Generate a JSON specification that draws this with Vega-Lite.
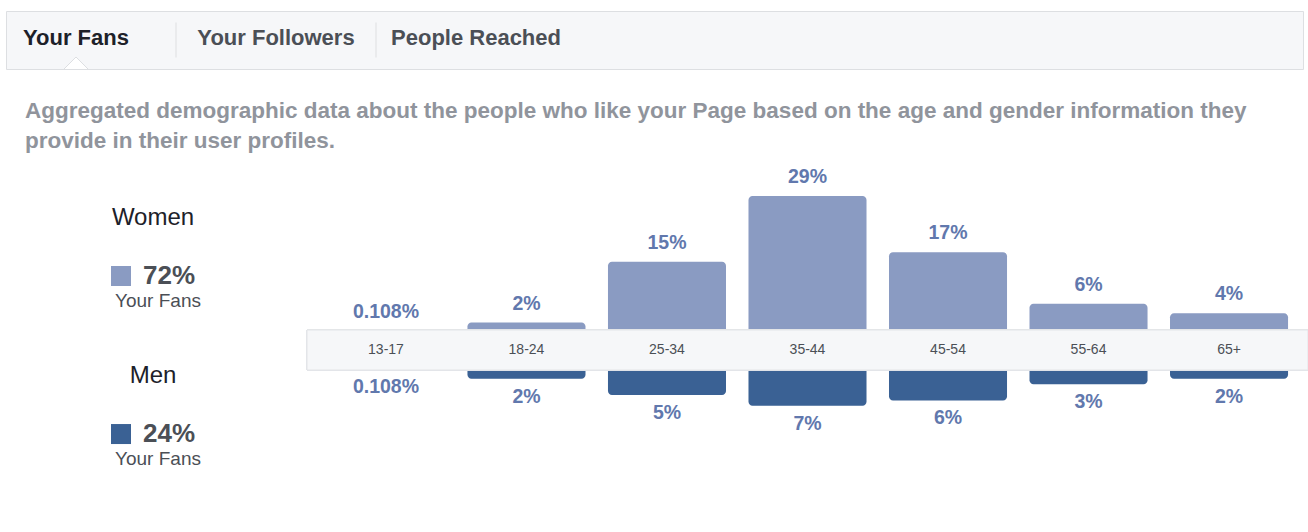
{
  "$schema": "https://vega.github.io/schema/vega-lite/v6.json",
  "background": "#ffffff",
  "padding": {"left": 5, "top": 10, "right": 0, "bottom": 0},
  "config": {"view": {"stroke": null}, "font": "Liberation Sans"},
  "spacing": 27,
  "vconcat": [
    {
      "width": 1297,
      "height": 58,
      "view": {"fill": "#f6f7f9", "stroke": "#dddfe2"},
      "data": {"values": [
        {"tab": "Your Fans", "kind": "tab", "active": true},
        {"tab": "sep1", "kind": "sep", "active": false},
        {"tab": "Your Followers", "kind": "tab", "active": false},
        {"tab": "sep2", "kind": "sep", "active": false},
        {"tab": "People Reached", "kind": "tab", "active": false}
      ]},
      "encoding": {
        "x": {"field": "tab", "type": "nominal", "axis": null,
          "scale": {"type": "point", "domain": ["Your Fans", "sep1", "Your Followers", "sep2", "People Reached"], "range": [70, 470], "padding": 0}}
      },
      "layer": [
        {
          "transform": [{"filter": "datum.kind === 'tab'"}],
          "mark": {"type": "text", "fontSize": 22, "fontWeight": "bold", "dy": -2},
          "encoding": {
            "text": {"field": "tab"},
            "color": {"condition": {"test": "datum.active", "value": "#1d2129"}, "value": "#4b4f56"}
          }
        },
        {
          "transform": [{"filter": "datum.kind === 'sep'"}],
          "mark": {"type": "tick", "orient": "vertical", "size": 35, "thickness": 1, "color": "#dddfe2", "opacity": 1}
        },
        {
          "transform": [{"filter": "datum.active"}],
          "mark": {"type": "point", "shape": "M-1,0L0,-1L1,0", "size": 576, "filled": true, "fill": "#ffffff", "stroke": "#dddfe2", "strokeWidth": 1, "opacity": 1, "yOffset": 29}
        }
      ]
    },
    {
      "title": {
        "text": ["Aggregated demographic data about the people who like your Page based on the age and gender information they", "provide in their user profiles."],
        "anchor": "start", "fontSize": 22.5, "fontWeight": "bold", "color": "#90949c", "lineHeight": 30, "offset": 6, "dx": 19, "dy": -4
      },
      "spacing": 6,
      "hconcat": [
        {
          "width": 294,
          "height": 300,
          "data": {"values": [
            {"gender": "Women", "share": "72%", "note": "Your Fans"},
            {"gender": "Men", "share": "24%", "note": "Your Fans"}
          ]},
          "encoding": {
            "y": {"field": "gender", "type": "nominal", "axis": null,
              "scale": {"type": "point", "domain": ["Women", "Men"], "padding": 0.449, "align": 0.803}}
          },
          "layer": [
            {"mark": {"type": "text", "fontSize": 24, "color": "#1d2129", "dy": -58}, "encoding": {"text": {"field": "gender"}}},
            {"mark": {"type": "point", "shape": "square", "size": 400, "filled": true, "opacity": 1, "xOffset": -32},
             "encoding": {"color": {"field": "gender", "type": "nominal", "legend": null, "scale": {"domain": ["Women", "Men"], "range": ["#8a9bc2", "#3a6194"]}}}},
            {"mark": {"type": "text", "fontSize": 26, "fontWeight": "bold", "color": "#4b4f56", "align": "left", "dx": -10}, "encoding": {"text": {"field": "share"}}},
            {"mark": {"type": "text", "fontSize": 19, "color": "#4b4f56", "dx": 5, "dy": 25}, "encoding": {"text": {"field": "note"}}}
          ]
        },
        {
          "width": 1001,
          "height": 300,
          "data": {"values": [
            {"age": "13-17", "gender": "Women", "pct": 0.108, "label": "0.108%"},
            {"age": "18-24", "gender": "Women", "pct": 2, "label": "2%"},
            {"age": "25-34", "gender": "Women", "pct": 15, "label": "15%"},
            {"age": "35-44", "gender": "Women", "pct": 29, "label": "29%"},
            {"age": "45-54", "gender": "Women", "pct": 17, "label": "17%"},
            {"age": "55-64", "gender": "Women", "pct": 6, "label": "6%"},
            {"age": "65+", "gender": "Women", "pct": 4, "label": "4%"},
            {"age": "13-17", "gender": "Men", "pct": 0.108, "label": "0.108%"},
            {"age": "18-24", "gender": "Men", "pct": 2, "label": "2%"},
            {"age": "25-34", "gender": "Men", "pct": 5, "label": "5%"},
            {"age": "35-44", "gender": "Men", "pct": 7, "label": "7%"},
            {"age": "45-54", "gender": "Men", "pct": 6, "label": "6%"},
            {"age": "55-64", "gender": "Men", "pct": 3, "label": "3%"},
            {"age": "65+", "gender": "Men", "pct": 2, "label": "2%"}
          ]},
          "encoding": {
            "x": {"field": "age", "type": "nominal", "axis": null,
              "scale": {"type": "band", "domain": ["13-17", "18-24", "25-34", "35-44", "45-54", "55-64", "65+"], "paddingInner": 0.16, "paddingOuter": 0.142}}
          },
          "resolve": {"scale": {"y": "independent"}},
          "layer": [
            {
              "transform": [{"filter": "datum.gender === 'Women'"}],
              "mark": {"type": "bar", "color": "#8a9bc2", "cornerRadiusTopLeft": 4, "cornerRadiusTopRight": 4},
              "encoding": {
                "y": {"field": "pct", "type": "quantitative", "axis": null, "scale": {"domain": [-27.72, 36.25], "zero": false, "nice": false}},
                "y2": {"datum": 0}
              }
            },
            {
              "transform": [{"filter": "datum.gender === 'Men'"}],
              "mark": {"type": "bar", "color": "#3a6194", "cornerRadiusBottomLeft": 4, "cornerRadiusBottomRight": 4},
              "encoding": {
                "y": {"field": "pct", "type": "quantitative", "axis": null, "scale": {"domain": [-38.15, 17.41], "reverse": true, "zero": false, "nice": false}},
                "y2": {"datum": 0}
              }
            },
            {
              "transform": [{"filter": "datum.gender === 'Women'"}],
              "mark": {"type": "rect", "color": "#f6f7f9", "stroke": "#e3e5e8", "strokeWidth": 1, "opacity": 1},
              "encoding": {
                "x": null,
                "y": {"datum": 0.43, "type": "quantitative", "axis": null, "scale": {"domain": [-27.72, 36.25], "zero": false, "nice": false}},
                "y2": {"datum": -8.1}
              }
            },
            {
              "transform": [{"filter": "datum.gender === 'Women'"}],
              "mark": {"type": "text", "fontSize": 14, "color": "#4b4f56"},
              "encoding": {
                "text": {"field": "age"},
                "y": {"datum": -3.84, "type": "quantitative", "axis": null, "scale": {"domain": [-27.72, 36.25], "zero": false, "nice": false}}
              }
            },
            {
              "transform": [{"filter": "datum.gender === 'Women'"}],
              "mark": {"type": "text", "fontSize": 19.5, "fontWeight": "bold", "color": "#6178ad", "baseline": "bottom", "dy": -9},
              "encoding": {
                "text": {"field": "label"},
                "y": {"field": "pct", "type": "quantitative", "axis": null, "scale": {"domain": [-27.72, 36.25], "zero": false, "nice": false}}
              }
            },
            {
              "transform": [{"filter": "datum.gender === 'Men'"}],
              "mark": {"type": "text", "fontSize": 19.5, "fontWeight": "bold", "color": "#6178ad", "baseline": "top", "dy": 9},
              "encoding": {
                "text": {"field": "label"},
                "y": {"field": "pct", "type": "quantitative", "axis": null, "scale": {"domain": [-38.15, 17.41], "reverse": true, "zero": false, "nice": false}}
              }
            }
          ]
        }
      ]
    }
  ]
}
